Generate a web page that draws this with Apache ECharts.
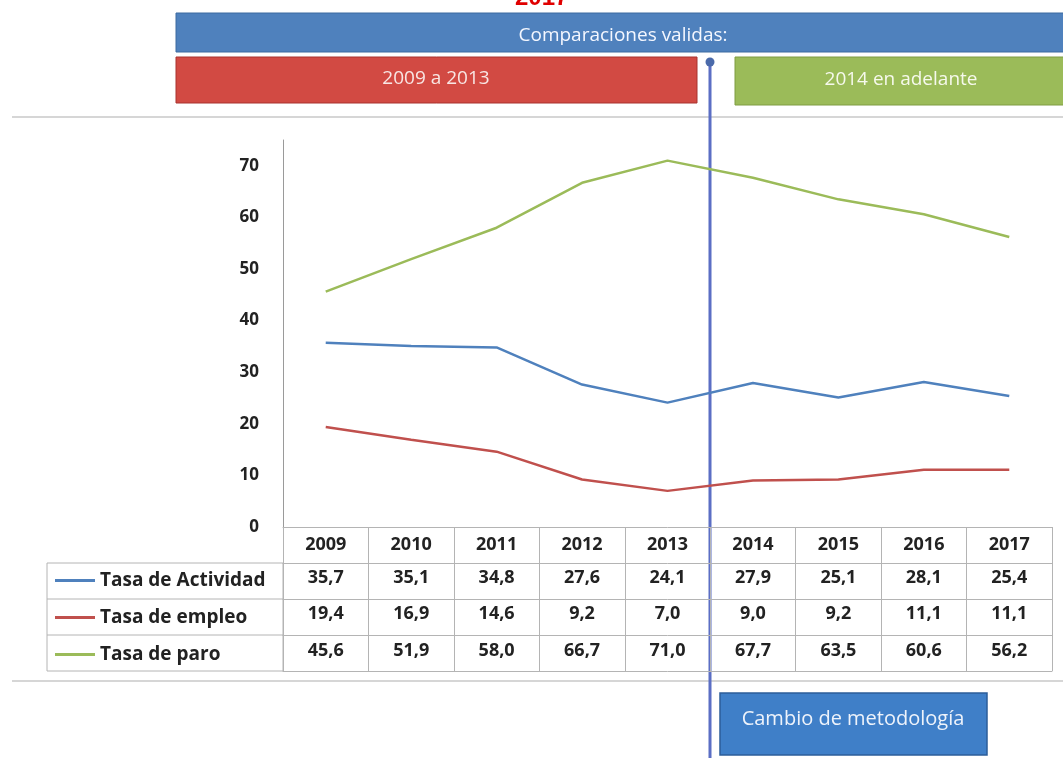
<!DOCTYPE html>
<html>
<head>
<meta charset="utf-8">
<script src="https://cdn.jsdelivr.net/npm/echarts@6/dist/echarts.min.js"></script>
<style>
  html, body { margin: 0; padding: 0; background: #fff; }
  #chart { width: 1063px; height: 758px; }
</style>
</head>
<body>
<div id="chart"></div>
<script>
const years = ['2009', '2010', '2011', '2012', '2013', '2014', '2015', '2016', '2017'];
const actividad = [35.7, 35.1, 34.8, 27.6, 24.1, 27.9, 25.1, 28.1, 25.4];
const empleo = [19.4, 16.9, 14.6, 9.2, 7.0, 9.0, 9.2, 11.1, 11.1];
const paro = [45.6, 51.9, 58.0, 66.7, 71.0, 67.7, 63.5, 60.6, 56.2];
const seriesNames = ['Tasa de Actividad', 'Tasa de empleo', 'Tasa de paro'];
const seriesColors = ['#4f81bd', '#c0504d', '#9bbb59'];

const FONT = '"Open Sans", sans-serif';
const tableLine = '#b4b4b4';

const fmt = v => v.toFixed(1).replace('.', ',');

// one category axis per table row; ticks draw the cell borders
function tableAxis(offset, values, tickLen, margin) {
    return {
        type: 'category',
        data: years,
        position: 'bottom',
        offset: offset,
        boundaryGap: true,
        axisLine: { show: true, lineStyle: { color: tableLine, width: 1 } },
        axisTick: { show: tickLen > 0, interval: 0, length: tickLen, lineStyle: { color: tableLine } },
        axisLabel: {
            show: !!values,
            interval: 0,
            margin: margin,
            fontFamily: FONT,
            fontWeight: 'bold',
            fontSize: 18,
            color: '#222',
            formatter: (v, i) => values ? (values === years ? v : fmt(values[i])) : ''
        }
    };
}

const chart = echarts.init(document.getElementById('chart'));

const option = {
    backgroundColor: '#fff',
    animation: false,
    grid: { left: 283, right: 11, top: 140, bottom: 231 },
    legend: {
        orient: 'vertical',
        left: 50,
        top: 565,
        itemGap: 16,
        itemWidth: 40,
        itemHeight: 3,
        icon: 'rect',
        data: seriesNames,
        textStyle: { fontFamily: FONT, fontWeight: 'bold', fontSize: 19, color: '#222', lineHeight: 21 },
        selectedMode: false
    },
    xAxis: [
        tableAxis(0, years, 36, 9),
        tableAxis(36, actividad, 36, 6),
        tableAxis(72, empleo, 36, 6),
        tableAxis(108, paro, 36, 7),
        tableAxis(144, null, 0, 0)
    ],
    yAxis: {
        type: 'value',
        min: 0,
        max: 75,
        interval: 10,
        axisLine: { show: true, lineStyle: { color: '#9a9a9a' } },
        axisTick: { show: false },
        splitLine: { show: false },
        axisLabel: {
            margin: 24,
            fontFamily: FONT,
            fontWeight: 'bold',
            fontSize: 17,
            color: '#222',
            formatter: v => (v % 10 === 0 ? String(v) : '')
        }
    },
    series: [
        { name: seriesNames[0], type: 'line', data: actividad, showSymbol: false, lineStyle: { width: 2.5, color: seriesColors[0] }, itemStyle: { color: seriesColors[0] } },
        { name: seriesNames[1], type: 'line', data: empleo, showSymbol: false, lineStyle: { width: 2.5, color: seriesColors[1] }, itemStyle: { color: seriesColors[1] } },
        { name: seriesNames[2], type: 'line', data: paro, showSymbol: false, lineStyle: { width: 2.5, color: seriesColors[2] }, itemStyle: { color: seriesColors[2] } }
    ],
    graphic: [
        // separators
        { type: 'line', shape: { x1: 12, y1: 117, x2: 1063, y2: 117 }, style: { stroke: '#c8c8c8', lineWidth: 1.5 } },
        { type: 'line', shape: { x1: 12, y1: 681, x2: 1063, y2: 681 }, style: { stroke: '#c8c8c8', lineWidth: 1.5 } },
        // legend column borders
        { type: 'rect', shape: { x: 47, y: 563, width: 236, height: 108 }, style: { fill: 'none', stroke: tableLine, lineWidth: 1 } },
        { type: 'line', shape: { x1: 47, y1: 599, x2: 283, y2: 599 }, style: { stroke: tableLine } },
        { type: 'line', shape: { x1: 47, y1: 635, x2: 283, y2: 635 }, style: { stroke: tableLine } },
        // cut-off title
        { type: 'text', left: 515, top: -14, style: { text: '2017', fill: '#e00000', font: 'bold 24px "Liberation Sans", sans-serif' } },
        // header boxes
        { type: 'rect', shape: { x: 176, y: 13, width: 900, height: 39 }, style: { fill: '#4f81bd', stroke: '#3d6aa0', lineWidth: 1 } },
        { type: 'text', x: 623, y: 36, style: { text: 'Comparaciones validas:', fill: '#f4f7ff', font: '19px ' + FONT, align: 'center', verticalAlign: 'middle' } },
        { type: 'rect', shape: { x: 176, y: 57, width: 521, height: 46 }, style: { fill: '#d24a43', stroke: '#a8332f', lineWidth: 1 } },
        { type: 'text', x: 436, y: 79, style: { text: '2009 a 2013', fill: '#f8e6e4', font: '19px ' + FONT, align: 'center', verticalAlign: 'middle' } },
        { type: 'rect', shape: { x: 735, y: 57, width: 340, height: 48 }, style: { fill: '#9bbb59', stroke: '#7e9c43', lineWidth: 1 } },
        { type: 'text', x: 901, y: 80, style: { text: '2014 en adelante', fill: '#f6f9ec', font: '19px ' + FONT, align: 'center', verticalAlign: 'middle' } },
        // methodology break
        { type: 'line', shape: { x1: 710, y1: 62, x2: 710, y2: 758 }, style: { stroke: '#5b6ec4', lineWidth: 3 } },
        { type: 'circle', shape: { cx: 710, cy: 62, r: 4.5 }, style: { fill: '#4a6aaa' } },
        { type: 'rect', shape: { x: 720, y: 693, width: 267, height: 62 }, style: { fill: '#3f7fc8', stroke: '#2d5d99', lineWidth: 1.5 } },
        { type: 'text', x: 853, y: 719, style: { text: 'Cambio de metodología', fill: '#eef3fb', font: '20px ' + FONT, align: 'center', verticalAlign: 'middle' } }
    ]
};

chart.setOption(option);
</script>
</body>
</html>
